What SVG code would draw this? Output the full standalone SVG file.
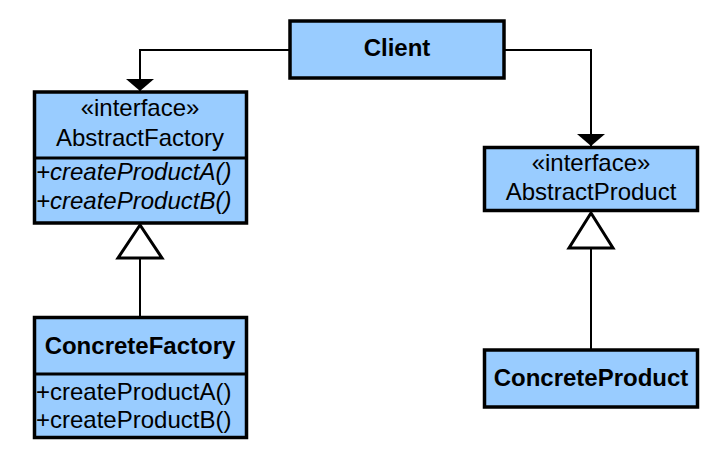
<svg xmlns="http://www.w3.org/2000/svg" width="719" height="464" viewBox="0 0 719 464">
  <style>
    .box { fill: #99CCFF; stroke: #000; stroke-width: 3.5; }
    .div { stroke: #000; stroke-width: 3; }
    .t { font-family: "Liberation Sans", Arial, sans-serif; font-size: 24px; fill: #000; }
    .c { text-anchor: middle; }
    .b { font-weight: bold; }
    .i { font-style: italic; }
    .line { fill: none; stroke: #000; stroke-width: 2; }
    .gen { fill: #fff; stroke: #000; stroke-width: 3; stroke-linejoin: miter; }
  </style>
  <defs>
    <!-- filled association arrowhead: short and wide -->
    <marker id="arrow" markerUnits="userSpaceOnUse" markerWidth="12" markerHeight="28" refX="12" refY="14" orient="auto" viewBox="0 0 12 28">
      <path d="M0,0 L12,14 L0,28 Z" fill="#000"/>
    </marker>
  </defs>
  <rect width="719" height="464" fill="#fff"/>

  <!-- associations and generalizations -->
  <g id="connectors">
    <polyline class="line" points="290,50 140,50 140,91" marker-end="url(#arrow)"/>
    <polyline class="line" points="505,50 591,50 591,146" marker-end="url(#arrow)"/>
    <line class="line" x1="140" y1="258" x2="140" y2="316"/>
    <polygon class="gen" points="140,225 118,258 162,258"/>
    <line class="line" x1="591" y1="248" x2="591" y2="349"/>
    <polygon class="gen" points="591,213 569,248 613,248"/>
  </g>

  <g id="client">
    <rect class="box" x="290" y="21" width="214" height="57"/>
    <text class="t c b" x="397" y="56">Client</text>
  </g>

  <g id="abstract-factory">
    <rect class="box" x="34.5" y="92" width="212" height="131"/>
    <line class="div" x1="34.5" y1="158" x2="246.5" y2="158"/>
    <text class="t c" x="140" y="116">«interface»</text>
    <text class="t c" x="140" y="146">AbstractFactory</text>
    <text class="t i" x="36" y="180">+createProductA()</text>
    <text class="t i" x="36" y="209">+createProductB()</text>
  </g>

  <g id="concrete-factory">
    <rect class="box" x="34.5" y="317.5" width="212" height="120"/>
    <line class="div" x1="34.5" y1="374" x2="246.5" y2="374"/>
    <text class="t c b" x="140" y="354">ConcreteFactory</text>
    <text class="t" x="36" y="400">+createProductA()</text>
    <text class="t" x="36" y="428">+createProductB()</text>
  </g>

  <g id="abstract-product">
    <rect class="box" x="484.5" y="147.5" width="213" height="63"/>
    <text class="t c" x="591" y="171">«interface»</text>
    <text class="t c" x="591" y="200">AbstractProduct</text>
  </g>

  <g id="concrete-product">
    <rect class="box" x="484.5" y="350" width="213" height="57"/>
    <text class="t c b" x="591" y="386">ConcreteProduct</text>
  </g>
</svg>
